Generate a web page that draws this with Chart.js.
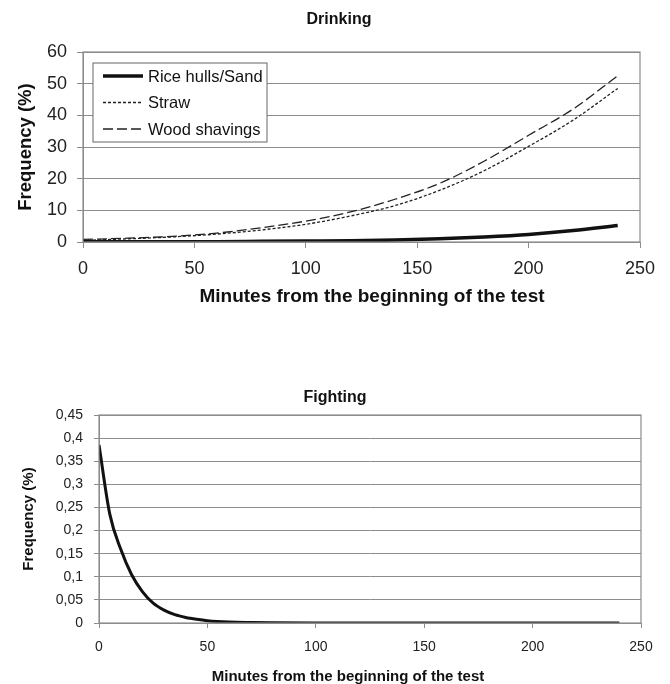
<!DOCTYPE html>
<html>
<head>
<meta charset="utf-8">
<script src="https://cdn.jsdelivr.net/npm/chart.js@4/dist/chart.umd.min.js"></script>
<style>
  body { margin: 0; background: #fff; }
  #top { position: absolute; left: 0; top: 0; width: 670px; height: 310px; }
  #bottom { position: absolute; left: 0; top: 330px; width: 670px; height: 354px; }
</style>
</head>
<body>
<div id="top"><canvas id="drinkChart"></canvas></div>
<div id="bottom"><canvas id="fightChart"></canvas></div>
<script>
/*------------------------- data -------------------------*/
var drinkMinutes = [0, 20, 40, 60, 80, 100, 120, 140, 160, 180, 200, 220, 240];
var riceSand = [0.1, 0.1, 0.1, 0.1, 0.2, 0.3, 0.4, 0.6, 1.0, 1.6, 2.4, 3.6, 5.2];
var straw = [0.5, 1.0, 1.6, 2.5, 3.8, 5.6, 8.2, 11.5, 16.3, 22.5, 30.2, 38.5, 48.5];
var woodShavings = [0.8, 1.2, 1.8, 2.8, 4.5, 6.6, 9.5, 13.5, 18.5, 25.5, 33.7, 42, 52.5];

var fightMinutes = [0, 5, 10, 15, 20, 25, 30, 35, 40, 45, 50, 60, 70, 80, 100, 150, 200, 240];
var fighting = [0.385, 0.235, 0.16, 0.105, 0.068, 0.043, 0.028, 0.018, 0.012, 0.008, 0.005, 0.002, 0.001, 0.0005, 0.0002, 0, 0, 0];

var xTitle = "Minutes from the beginning of the test";
var FONT = "'Liberation Sans', Arial, sans-serif";

function pts(xs, ys) {
  return xs.map(function (x, i) { return { x: x, y: ys[i] }; });
}
function fixWidth(w) { return function (s) { s.width = w; }; }
function fixHeight(h) { return function (s) { s.height = h; }; }

// gray frame round the plot area
var frame = {
  id: "frame",
  afterDraw: function (chart) {
    var a = chart.chartArea, c = chart.ctx;
    c.save();
    c.strokeStyle = "#8c8c8c";
    c.lineWidth = 1.2;
    c.strokeRect(a.left, a.top, a.right - a.left, a.bottom - a.top);
    c.restore();
  }
};

// titles are not centred on the plot in the original, so place them by hand
var captions = {
  id: "captions",
  afterDraw: function (chart, args, opts) {
    var c = chart.ctx;
    c.save();
    c.fillStyle = "#111";
    c.textAlign = "center";
    c.textBaseline = "middle";
    (opts.items || []).forEach(function (t) {
      c.font = "bold " + t.size + "px " + FONT;
      c.fillText(t.text, t.x, t.y);
    });
    c.restore();
  }
};

// legend box drawn inside the plot area, like the original
var boxLegend = {
  id: "boxLegend",
  afterDraw: function (chart) {
    var a = chart.chartArea, c = chart.ctx;
    var x0 = a.left + 10, y0 = a.top + 11, w = 174, h = 79;
    c.save();
    c.fillStyle = "#fff";
    c.fillRect(x0, y0, w, h);
    c.strokeStyle = "#666";
    c.lineWidth = 1;
    c.strokeRect(x0, y0, w, h);
    c.font = "16.5px " + FONT;
    c.textBaseline = "middle";
    chart.data.datasets.forEach(function (ds, i) {
      var y = y0 + 13 + i * 26.5;
      c.strokeStyle = ds.borderColor;
      c.lineWidth = ds.borderWidth;
      c.setLineDash(ds.borderDash || []);
      c.beginPath();
      c.moveTo(x0 + 10, y);
      c.lineTo(x0 + 50, y);
      c.stroke();
      c.setLineDash([]);
      c.fillStyle = "#111";
      c.fillText(ds.label, x0 + 55, y + 1);
    });
    c.restore();
  }
};

/*------------------------- Drinking -------------------------*/
new Chart("drinkChart", {
  type: "line",
  data: {
    datasets: [{
      label: "Rice hulls/Sand",
      data: pts(drinkMinutes, riceSand),
      borderColor: "#111",
      borderWidth: 3.5
    }, {
      label: "Straw",
      data: pts(drinkMinutes, straw),
      borderColor: "#222",
      borderWidth: 1.3,
      borderDash: [3, 2]
    }, {
      label: "Wood shavings",
      data: pts(drinkMinutes, woodShavings),
      borderColor: "#222",
      borderWidth: 1.3,
      borderDash: [10, 4]
    }]
  },
  options: {
    responsive: true,
    maintainAspectRatio: false,
    animation: false,
    elements: { point: { radius: 0 }, line: { cubicInterpolationMode: "monotone" } },
    layout: { padding: { left: 0, right: 30, top: 52, bottom: 0 } },
    plugins: {
      legend: { display: false },
      tooltip: { enabled: false },
      captions: {
        items: [
          { text: "Drinking", x: 339, y: 20, size: 16 },
          { text: xTitle, x: 372, y: 297, size: 19 }
        ]
      }
    },
    scales: {
      x: {
        type: "linear",
        min: 0, max: 250,
        afterFit: fixHeight(68),
        ticks: { stepSize: 50, color: "#222", font: { family: FONT, size: 18 }, padding: 10 },
        grid: { drawOnChartArea: false, color: "#8c8c8c", tickLength: 6 },
        border: { color: "#8c8c8c" }
      },
      y: {
        min: 0, max: 60,
        afterFit: fixWidth(83),
        ticks: { stepSize: 10, color: "#222", font: { family: FONT, size: 18 }, padding: 10 },
        grid: { color: "#8c8c8c", tickLength: 6 },
        border: { color: "#8c8c8c" },
        title: { display: true, text: "Frequency (%)", color: "#111", font: { family: FONT, size: 18.5, weight: "bold" }, padding: { top: 15, bottom: 15 } }
      }
    }
  },
  plugins: [frame, boxLegend, captions]
});

/*------------------------- Fighting -------------------------*/
new Chart("fightChart", {
  type: "line",
  data: {
    datasets: [{
      label: "Fighting",
      data: pts(fightMinutes, fighting),
      borderColor: "#111",
      borderWidth: 3
    }]
  },
  options: {
    responsive: true,
    maintainAspectRatio: false,
    animation: false,
    elements: { point: { radius: 0 }, line: { cubicInterpolationMode: "monotone" } },
    layout: { padding: { left: 0, right: 29, top: 85, bottom: 0 } },
    plugins: {
      legend: { display: false },
      tooltip: { enabled: false },
      captions: {
        items: [
          { text: "Fighting", x: 335, y: 68, size: 16 },
          { text: xTitle, x: 348, y: 347, size: 15 }
        ]
      }
    },
    scales: {
      x: {
        type: "linear",
        min: 0, max: 250,
        afterFit: fixHeight(61),
        ticks: { stepSize: 50, color: "#222", font: { family: FONT, size: 14 }, padding: 11 },
        grid: { drawOnChartArea: false, color: "#8c8c8c", tickLength: 5 },
        border: { color: "#8c8c8c" }
      },
      y: {
        min: 0, max: 0.45,
        afterFit: fixWidth(99),
        ticks: {
          stepSize: 0.05, autoSkip: false, color: "#222", font: { family: FONT, size: 14 }, padding: 11,
          callback: function (v) { return String(Math.round(v * 100) / 100).replace(".", ","); }
        },
        grid: { color: "#8c8c8c", tickLength: 5 },
        border: { color: "#8c8c8c" },
        title: { display: true, text: "Frequency (%)", color: "#111", font: { family: FONT, size: 15, weight: "bold" }, padding: { top: 20, bottom: 20 } }
      }
    }
  },
  plugins: [frame, captions]
});
</script>
</body>
</html>
